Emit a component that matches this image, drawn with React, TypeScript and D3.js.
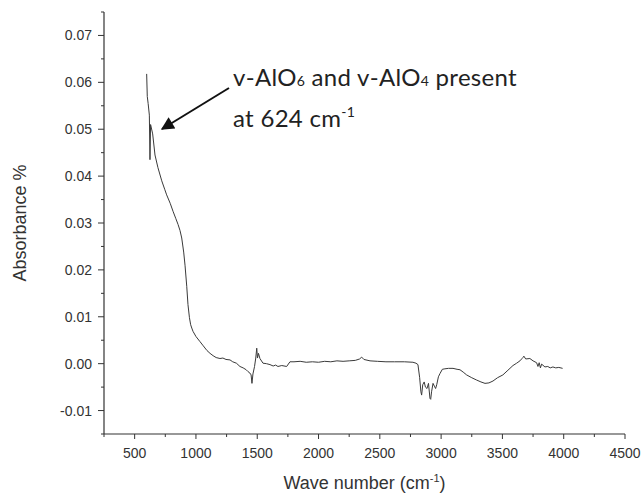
import { useMemo } from "react";
import * as d3 from "d3";

const W = 643;
const H = 497;

// spectrum: wavenumber (cm-1) and absorbance
const wavenumber = [
  598, 603, 610, 620, 625, 630, 647, 666, 690, 721, 745, 761, 790, 813, 835, 854,
  870, 884, 900, 911, 925, 935, 947, 957, 966, 976, 1000, 1033, 1060, 1090, 1115,
  1140, 1165, 1196, 1220, 1245, 1278, 1300, 1330, 1359, 1385, 1410, 1425, 1440,
  1450, 1457, 1465, 1478, 1488, 1496, 1502, 1510, 1522, 1547, 1575, 1604, 1630,
  1650, 1669, 1700, 1740, 1767, 1800, 1850, 1900, 1950, 2000, 2050, 2100, 2150,
  2200, 2250, 2300, 2335, 2352, 2370, 2420, 2480, 2550, 2620, 2700, 2770, 2795,
  2811, 2825, 2835, 2841, 2850, 2862, 2872, 2885, 2897, 2909, 2915, 2922, 2934,
  2945, 2955, 2964, 2978, 2991, 3010, 3031, 3060, 3097, 3130, 3154, 3180, 3208,
  3250, 3290, 3325, 3358, 3390, 3423, 3460, 3504, 3545, 3586, 3616, 3643, 3660,
  3667, 3675, 3690, 3724, 3750, 3779, 3790, 3800, 3810, 3820, 3847, 3870, 3890,
  3912, 3935, 3960, 3991
];
const absorbance = [
  0.0618, 0.057, 0.0555, 0.053, 0.0435, 0.051, 0.049, 0.0445, 0.0418, 0.039,
  0.0372, 0.036, 0.0342, 0.0325, 0.031, 0.0297, 0.0284, 0.0268, 0.0238, 0.021,
  0.0165, 0.0126, 0.0098, 0.0083, 0.0076, 0.0069, 0.0058, 0.0047, 0.0038, 0.0028,
  0.0022, 0.0017, 0.0013, 0.0011, 0.0012, 0.0009, 0.0008, 0.0004, 0.0001, -0.0006,
  -0.0009, -0.0013, -0.0017, -0.002, -0.0024, -0.0042, -0.0022, -0.0006, 0.0012,
  0.0033, 0.0012, 0.0022, 0.0011, 0.0001, 0.0, -0.0002, -0.0005, -0.0003, -0.0006,
  -0.0004, -0.0006, 0.0004, 0.0004, 0.0005, 0.0003, 0.0004, 0.0003, 0.0005,
  0.0004, 0.0006, 0.0005, 0.0006, 0.0007, 0.001, 0.0014, 0.0009, 0.0006, 0.0005,
  0.0004, 0.0004, 0.0004, 0.0003, 0.0001, -0.0002, -0.003, -0.006, -0.0067,
  -0.0045, -0.0039, -0.005, -0.0053, -0.0042, -0.0074, -0.0076, -0.006, -0.0042,
  -0.0048, -0.0053, -0.0045, -0.0028, -0.0021, -0.0012, -0.0011, -0.001, -0.001,
  -0.0012, -0.0013, -0.0018, -0.0024, -0.003, -0.0035, -0.0039, -0.0042, -0.0041,
  -0.0037, -0.003, -0.0024, -0.0014, -0.0004, 0.0001, 0.0006, 0.0011, 0.0013,
  0.0016, 0.001, 0.0011, 0.0006, 0.0002, -0.0006, 0.0002, -0.0009, -0.0001,
  -0.0007, -0.0006, -0.0009, -0.0007, -0.0009, -0.0008, -0.001, -0.001
];

const xMajor = [500, 1000, 1500, 2000, 2500, 3000, 3500, 4000, 4500];
const xMinor = [250, 750, 1250, 1750, 2250, 2750, 3250, 3750, 4250];
const yMajor = [-0.01, 0, 0.01, 0.02, 0.03, 0.04, 0.05, 0.06, 0.07];
const yMinor = [-0.015, -0.005, 0.005, 0.015, 0.025, 0.035, 0.045, 0.055, 0.065, 0.075];

const axisColor = "#333";
const font = "'Liberation Sans', Arial, sans-serif";
const noteFont = "Lato, 'Open Sans', sans-serif";
const fmt = (t: number) => d3.format(".2f")(t).replace("\u2212", "-");

export default function App() {
  const x = d3.scaleLinear().domain([250, 4500]).range([104, 625]);
  const y = d3.scaleLinear().domain([-0.015, 0.075]).range([434, 12]);

  const path = useMemo(() => {
    const line = d3
      .line<number>()
      .x((_, i) => x(wavenumber[i]))
      .y(d => y(d));
    return line(absorbance);
  }, []);

  const x0 = x.range()[0];
  const yBase = y.range()[0];

  return (
    <svg
      width={W}
      height={H}
      style={{ position: "absolute", left: 0, top: 0, background: "#fff" }}
    >
      <defs>
        <marker
          id="head"
          viewBox="0 0 10 10"
          refX="9"
          refY="5"
          markerWidth="8"
          markerHeight="6.5"
          orient="auto"
          markerUnits="strokeWidth"
        >
          <path d="M0,0 L10,5 L0,10 z" fill="#111" />
        </marker>
      </defs>

      <path d={path || ""} fill="none" stroke="#3a3a3a" strokeWidth={1} />

      {/* axes */}
      <line x1={x0} x2={x.range()[1]} y1={yBase} y2={yBase} stroke={axisColor} strokeWidth={1.2} />
      <line x1={x0} x2={x0} y1={y.range()[1]} y2={yBase} stroke={axisColor} strokeWidth={1.2} />

      {xMajor.map(t => (
        <g key={`xm${t}`}>
          <line x1={x(t)} x2={x(t)} y1={yBase} y2={yBase + 5} stroke={axisColor} />
          <text x={x(t)} y={yBase + 24} textAnchor="middle" fontSize={14} fontFamily={font} fill="#333">
            {t}
          </text>
        </g>
      ))}
      {xMinor.map(t => (
        <line key={`xn${t}`} x1={x(t)} x2={x(t)} y1={yBase} y2={yBase + 3} stroke={axisColor} />
      ))}

      {yMajor.map(t => (
        <g key={`ym${t}`}>
          <line x1={x0 - 6} x2={x0} y1={y(t)} y2={y(t)} stroke={axisColor} />
          <text x={x0 - 12} y={y(t) + 5} textAnchor="end" fontSize={14} fontFamily={font} fill="#333">
            {fmt(t)}
          </text>
        </g>
      ))}
      {yMinor.map(t => (
        <line key={`yn${t}`} x1={x0 - 3} x2={x0} y1={y(t)} y2={y(t)} stroke={axisColor} />
      ))}

      {/* axis titles */}
      <text x={(x0 + x.range()[1]) / 2} y={489} textAnchor="middle" fontSize={18} fontFamily={font} fill="#333">
        Wave number (cm
        <tspan fontSize={11} dy={-7}>-1</tspan>
        <tspan dy={7}>)</tspan>
      </text>
      <text
        transform={`translate(26,${(y.range()[0] + y.range()[1]) / 2}) rotate(-90)`}
        textAnchor="middle"
        fontSize={18}
        fontFamily={font}
        fill="#333"
      >
        Absorbance %
      </text>

      {/* annotation */}
      <line x1={229} y1={88} x2={162} y2={129} stroke="#111" strokeWidth={2} markerEnd="url(#head)" />
      <text x={233} y={86} fontSize={24} fontFamily={noteFont} fill="#222" letterSpacing={0.3}>
        v-AlO<tspan fontSize={14}>6</tspan> and v-AlO<tspan fontSize={14}>4</tspan> present
      </text>
      <text x={233} y={127} fontSize={24} fontFamily={noteFont} fill="#222" letterSpacing={0.3}>
        at 624 cm<tspan fontSize={14} dy={-10}>-1</tspan>
      </text>
    </svg>
  );
}
